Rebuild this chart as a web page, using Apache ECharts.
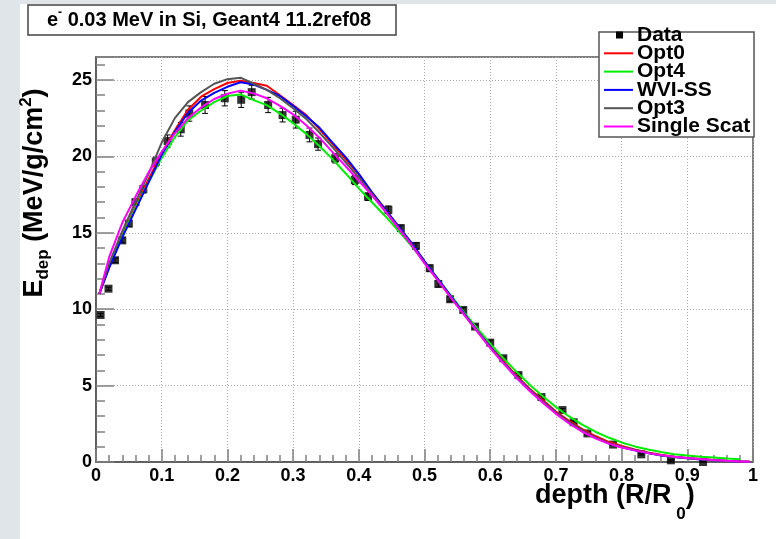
<!DOCTYPE html>
<html>
<head>
<meta charset="utf-8">
<script src="https://cdn.jsdelivr.net/npm/echarts@6.0.0/dist/echarts.min.js"></script>
<style>
  html, body { margin: 0; padding: 0; background: #ffffff; }
  #chart { width: 776px; height: 539px; }
</style>
</head>
<body>
<div id="chart"></div>
<script>
const FONT = '"Liberation Sans", Arial, Helvetica, sans-serif';

// Simulated depth-dose profiles (bin centres in R/R0)
const depth = [0.005, 0.02, 0.04, 0.06, 0.08, 0.10, 0.12, 0.14, 0.16, 0.18,
  0.20, 0.22, 0.24, 0.26, 0.28, 0.30, 0.32, 0.34, 0.36, 0.38,
  0.40, 0.42, 0.44, 0.46, 0.48, 0.50, 0.52, 0.54, 0.56, 0.58,
  0.60, 0.62, 0.64, 0.66, 0.68, 0.70, 0.72, 0.74, 0.76, 0.78,
  0.80, 0.82, 0.84, 0.86, 0.88, 0.90, 0.92, 0.94, 0.96, 0.98, 0.995];

const opt0 = [11.0, 12.75, 14.85, 16.7, 18.5, 20.2, 21.7, 23.05, 23.9, 24.4,
  24.8, 24.95, 24.8, 24.62, 24.0, 23.35, 22.7, 21.78, 20.8, 19.8,
  18.8, 17.65, 16.55, 15.4, 14.3, 13.1, 11.95, 10.85, 9.7, 8.65,
  7.6, 6.6, 5.65, 4.8, 4.05, 3.3, 2.7, 2.15, 1.7, 1.32,
  1.05, 0.82, 0.62, 0.47, 0.35, 0.26, 0.19, 0.13, 0.08, 0.04, 0.01];

const opt4 = [11.0, 12.8, 14.8, 16.6, 18.3, 19.9, 21.25, 22.35, 23.0, 23.55,
  23.95, 24.05, 23.68, 23.35, 22.8, 22.17, 21.47, 20.68, 19.82, 18.88,
  17.9, 17.0, 16.1, 15.15, 14.15, 13.1, 12.0, 10.9, 9.8, 8.75,
  7.75, 6.8, 5.9, 5.05, 4.3, 3.6, 2.98, 2.45, 1.98, 1.6,
  1.28, 1.02, 0.82, 0.65, 0.51, 0.42, 0.35, 0.29, 0.23, 0.18, null];

const wviSS = [11.0, 12.7, 14.7, 16.5, 18.3, 20.1, 21.6, 22.85, 23.65, 24.15,
  24.55, 24.85, 24.7, 24.35, 23.95, 23.3, 22.62, 21.88, 20.9, 19.95,
  18.85, 17.65, 16.55, 15.45, 14.35, 13.15, 12.0, 10.85, 9.72, 8.6,
  7.55, 6.52, 5.58, 4.72, 3.95, 3.22, 2.6, 2.05, 1.6, 1.22,
  0.97, 0.77, 0.58, 0.43, 0.32, 0.24, 0.17, 0.11, 0.07, 0.03, 0.01];

const opt3 = [11.0, 13.0, 15.1, 17.0, 18.85, 20.9, 22.5, 23.55, 24.2, 24.75,
  25.05, 25.15, 24.75, 24.35, 23.8, 23.15, 22.45, 21.55, 20.6, 19.6,
  18.6, 17.55, 16.45, 15.35, 14.25, 13.05, 11.9, 10.78, 9.68, 8.58,
  7.52, 6.52, 5.58, 4.72, 3.95, 3.22, 2.6, 2.06, 1.6, 1.23,
  0.98, 0.78, 0.59, 0.44, 0.33, 0.25, 0.18, 0.12, 0.07, 0.04, 0.01];

const singleScat = [11.0, 13.4, 15.65, 17.35, 18.95, 20.3, 21.5, 22.5, 23.2, 23.75,
  24.1, 24.3, 24.12, 23.8, 23.3, 22.75, 22.03, 21.22, 20.28, 19.35,
  18.4, 17.45, 16.4, 15.3, 14.2, 13.0, 11.9, 10.75, 9.65, 8.55,
  7.45, 6.45, 5.5, 4.65, 3.88, 3.15, 2.52, 1.98, 1.55, 1.2,
  0.95, 0.76, 0.58, 0.45, 0.34, 0.26, 0.19, 0.13, 0.08, 0.04, 0.01];

// Measured points with uncertainties
const dataDepth = [0.007, 0.019, 0.029, 0.040, 0.050, 0.060, 0.072, 0.091, 0.109, 0.129,
  0.142, 0.166, 0.196, 0.221, 0.237, 0.262, 0.284, 0.304, 0.325, 0.338,
  0.364, 0.394, 0.414, 0.445, 0.464, 0.487, 0.508, 0.521, 0.539, 0.559,
  0.577, 0.600, 0.620, 0.643, 0.678, 0.710, 0.727, 0.748, 0.787, 0.830,
  0.875, 0.924];
const dataEdep = [9.62, 11.34, 13.2, 14.5, 15.6, 17.0, 17.85, 19.65, 21.0, 21.77,
  22.8, 23.36, 23.8, 23.7, 24.2, 23.36, 22.7, 22.4, 21.4, 20.8,
  19.87, 18.45, 17.36, 16.5, 15.3, 14.14, 12.68, 11.65, 10.65, 9.95,
  8.86, 7.81, 6.79, 5.69, 4.25, 3.40, 2.6, 1.87, 1.14, 0.5,
  0.11, 0.0];
const dataErr = [0.1, 0.1, 0.15, 0.15, 0.2, 0.2, 0.25, 0.3, 0.4, 0.45,
  0.5, 0.55, 0.5, 0.5, 0.45, 0.5, 0.45, 0.55, 0.45, 0.4,
  0.3, 0.3, 0.25, 0.25, 0.2, 0.2, 0.2, 0.2, 0.15, 0.15,
  0.15, 0.15, 0.1, 0.1, 0.1, 0.1, 0.1, 0.1, 0.05, 0.05,
  0.05, 0.05];

const xTickLabels = ['0', '0.1', '0.2', '0.3', '0.4', '0.5', '0.6', '0.7', '0.8', '0.9', '1'];
const yTickLabels = ['0', '5', '10', '15', '20', '25'];

const seriesNames = ['Opt0', 'Opt4', 'WVI-SS', 'Opt3', 'Single Scat'];
const seriesColors = ['#ff0000', '#00ee00', '#0000ff', '#555555', '#ff00ff'];
const seriesValues = [opt0, opt4, wviSS, opt3, singleScat];

const titleText = '{b|e}{sup|-}{b| 0.03 MeV in Si, Geant4 11.2ref08}';

const chart = echarts.init(document.getElementById('chart'), null, { renderer: 'canvas' });

const measured = dataDepth.map((d, i) => [d, dataEdep[i], dataErr[i]]);

const lineSeries = seriesNames.map((name, k) => ({
  name: name,
  type: 'line',
  showSymbol: false,
  symbol: 'none',
  data: depth.map((d, i) => [d, seriesValues[k][i]]),
  lineStyle: { color: seriesColors[k], width: 2 },
  itemStyle: { color: seriesColors[k] },
  z: 5 + k,
  silent: true
}));

// Legend drawn as graphic elements
const legendX = 599, legendY = 32, legendRow = 18.3;
const legendItems = [];
legendItems.push({
  type: 'rect', z: 100,
  shape: { x: legendX, y: legendY, width: 155, height: 105 },
  style: { fill: '#ffffff', stroke: '#555555', lineWidth: 1.5 }
});
const legendLabels = ['Data'].concat(seriesNames);
legendLabels.forEach((lab, i) => {
  const cy = legendY + 3 + i * legendRow;
  if (i === 0) {
    legendItems.push({
      type: 'rect', z: 101,
      shape: { x: 616, y: cy - 3.5, width: 7, height: 7 },
      style: { fill: '#000000' }
    });
  } else {
    legendItems.push({
      type: 'line', z: 101,
      shape: { x1: 604, y1: cy, x2: 633, y2: cy },
      style: { stroke: seriesColors[i - 1], lineWidth: 2 }
    });
  }
  legendItems.push({
    type: 'text', z: 102, x: 637, y: cy,
    style: {
      text: lab, fontFamily: FONT, fontWeight: 'bold', fontSize: 21,
      fill: '#000000', align: 'left', verticalAlign: 'middle'
    }
  });
});

const option = {
  animation: false,
  backgroundColor: '#dfe5e8',
  grid: {
    left: 96, right: 23, top: 57, bottom: 77,
    show: true, backgroundColor: '#ffffff',
    borderColor: '#555555', borderWidth: 1.5
  },
  xAxis: [{
    type: 'value', min: 0, max: 1, interval: 0.1,
    axisLine: { show: true, lineStyle: { color: '#555555', width: 1.5 } },
    axisTick: { show: true, inside: true, length: 13, lineStyle: { color: '#808080', width: 1.5 } },
    minorTick: { show: true, splitNumber: 5, length: 7, lineStyle: { color: '#808080', width: 1.5 } },
    splitLine: { show: true, lineStyle: { color: '#aaaaaa', width: 1, type: [1, 2] } },
    axisLabel: {
      margin: 5, color: '#000000', fontFamily: FONT, fontWeight: 'bold', fontSize: 18,
      formatter: function (v) {
        const k = Math.round(v * 10);
        return Math.abs(v * 10 - k) < 1e-6 ? xTickLabels[k] : '';
      }
    }
  }],
  yAxis: [{
    type: 'value', min: 0, max: 26.5, interval: 5,
    axisLine: { show: true, lineStyle: { color: '#555555', width: 1.5 } },
    axisTick: { show: true, inside: true, length: 18, lineStyle: { color: '#808080', width: 1.5 } },
    splitLine: { show: true, lineStyle: { color: '#aaaaaa', width: 1, type: [1, 2] } },
    axisLabel: {
      margin: 4, color: '#000000', fontFamily: FONT, fontWeight: 'bold', fontSize: 18,
      formatter: function (v) {
        const k = Math.round(v / 5);
        return Math.abs(v / 5 - k) < 1e-6 ? yTickLabels[k] : '';
      }
    }
  }, {
    // fine ticks every 1 unit
    type: 'value', min: 0, max: 26.5, interval: 1, position: 'left', offset: 0,
    axisLine: { show: false },
    axisTick: { show: true, inside: true, length: 9, lineStyle: { color: '#808080', width: 1.5 } },
    splitLine: { show: false },
    axisLabel: { show: false }
  }],
  graphic: {
    elements: [
      {
        type: 'rect', z: -10, silent: true,
        shape: { x: 20, y: 4, width: 756, height: 535 },
        style: { fill: '#ffffff' }
      },
      {
        type: 'rect', z: 100,
        shape: { x: 28, y: 5, width: 368, height: 30 },
        style: { fill: '#ffffff', stroke: '#444444', lineWidth: 1.5 }
      },
      {
        type: 'text', z: 101, x: 47, y: 20,
        style: {
          text: titleText, align: 'left', verticalAlign: 'middle', fill: '#000000',
          rich: {
            b: { fontFamily: FONT, fontWeight: 'bold', fontSize: 20, lineHeight: 26 },
            sup: { fontFamily: FONT, fontWeight: 'bold', fontSize: 12, lineHeight: 14, verticalAlign: 'top' }
          }
        }
      },
      {
        type: 'text', z: 101, x: 35, y: 193, rotation: Math.PI / 2,
        style: {
          text: '{b|E}{sub|dep}{b| (MeV/g/cm}{sup|2}{b|)}',
          align: 'center', verticalAlign: 'middle', fill: '#000000',
          rich: {
            b: { fontFamily: FONT, fontWeight: 'bold', fontSize: 27, lineHeight: 34 },
            sub: { fontFamily: FONT, fontWeight: 'bold', fontSize: 17, lineHeight: 23, verticalAlign: 'bottom' },
            sup: { fontFamily: FONT, fontWeight: 'bold', fontSize: 17, lineHeight: 17, verticalAlign: 'top' }
          }
        }
      },
      {
        type: 'text', z: 101, x: 535, y: 496,
        style: {
          text: '{b|depth (R/R}{sub| 0}{b|)}',
          align: 'left', verticalAlign: 'middle', fill: '#000000',
          rich: {
            b: { fontFamily: FONT, fontWeight: 'bold', fontSize: 27, lineHeight: 54 },
            sub: { fontFamily: FONT, fontWeight: 'bold', fontSize: 17, lineHeight: 17, verticalAlign: 'bottom' }
          }
        }
      }
    ].concat(legendItems)
  },
  series: [
    {
      name: 'Data errors',
      type: 'custom',
      silent: true,
      z: 3,
      data: measured,
      renderItem: function (params, api) {
        const d = api.value(0), v = api.value(1), e = api.value(2);
        const lo = api.coord([d, Math.max(0, v - e)]);
        const hi = api.coord([d, v + e]);
        const cap = 3;
        return {
          type: 'group',
          children: [
            { type: 'line', shape: { x1: lo[0], y1: lo[1], x2: hi[0], y2: hi[1] }, style: { stroke: '#000', lineWidth: 1 } },
            { type: 'line', shape: { x1: lo[0] - cap, y1: lo[1], x2: lo[0] + cap, y2: lo[1] }, style: { stroke: '#000', lineWidth: 1 } },
            { type: 'line', shape: { x1: hi[0] - cap, y1: hi[1], x2: hi[0] + cap, y2: hi[1] }, style: { stroke: '#000', lineWidth: 1 } }
          ]
        };
      }
    },
    {
      name: 'Data',
      type: 'scatter',
      symbol: 'rect',
      symbolSize: 8,
      z: 4,
      silent: true,
      data: measured.map(p => [p[0], p[1]]),
      itemStyle: { color: '#000000' }
    }
  ].concat(lineSeries)
};

chart.setOption(option);
</script>
</body>
</html>
